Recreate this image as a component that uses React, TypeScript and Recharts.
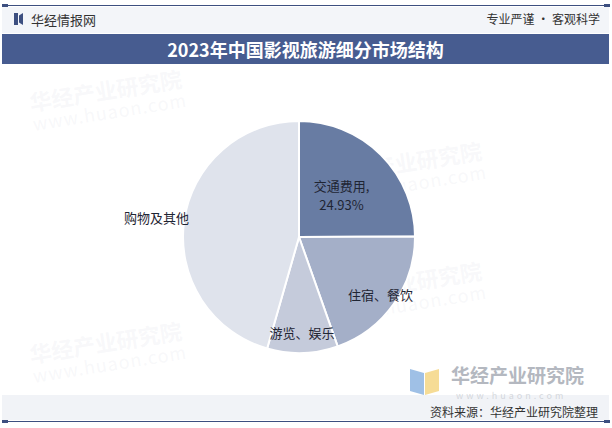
import { PieChart, Pie, Cell } from "recharts";

const categories = ["交通费用", "住宿、餐饮", "游览、娱乐", "购物及其他"];
const shares = [24.93, 19.66, 9.84, 45.57];
const sliceColors = ["#687ca3", "#a4afc8", "#c5cbdb", "#dfe3ec"];
// label distance from centre, as a share of the radius
const labelRadius = [0.52, 0.86, 0.82, 1.24];

const data = categories.map((name, i) => ({ name, value: shares[i] }));

const FONT = '"Noto Sans CJK SC", "Noto Sans", sans-serif';
const RAD = Math.PI / 180;

function renderLabel(props: any) {
  const { cx, cy, midAngle, outerRadius, index, name, value } = props;
  const r = outerRadius * labelRadius[index];
  const x = cx + r * Math.cos(-midAngle * RAD);
  const y = cy + r * Math.sin(-midAngle * RAD);
  if (index === 0) {
    return (
      <text x={x} y={y} textAnchor="middle" fill="#1f2533" fontSize={13} fontFamily={FONT}>
        <tspan x={x} dy={-3}>{name},</tspan>
        <tspan x={x} dy={19}>{value.toFixed(2)}%</tspan>
      </text>
    );
  }
  return (
    <text x={x} y={y} textAnchor="middle" dominantBaseline="central" fill="#1f2533" fontSize={13} fontFamily={FONT}>
      {name}
    </text>
  );
}

function Watermark({ x, y }: { x: number; y: number }) {
  return (
    <div
      style={{
        position: "absolute",
        left: x,
        top: y,
        transform: "rotate(-9deg)",
        color: "rgba(200,205,215,0.14)",
        fontFamily: FONT,
        lineHeight: 1,
      }}
    >
      <div style={{ fontSize: 22, fontWeight: 700 }}>华经产业研究院</div>
      <div style={{ fontSize: 18, marginTop: 2, letterSpacing: 1 }}>www.huaon.com</div>
    </div>
  );
}

export default function App() {
  return (
    <div
      style={{
        position: "absolute",
        left: 0,
        top: 0,
        width: 612,
        height: 428,
        background: "#ffffff",
        overflow: "hidden",
        fontFamily: FONT,
      }}
    >
      {/* top rule */}
      <div style={{ position: "absolute", left: 3, top: 5, width: 606, height: 1, background: "#3d4f80" }} />
      <div style={{ position: "absolute", left: 2, top: 4, width: 6, height: 3, background: "#3d4f80" }} />
      <div style={{ position: "absolute", left: 604, top: 4, width: 6, height: 3, background: "#3d4f80" }} />

      {/* header */}
      <div style={{ position: "absolute", left: 2, top: 7, width: 607, height: 26, background: "#f3f5f9" }} />
      <div style={{ position: "absolute", left: 14, top: 13, width: 4, height: 12, background: "#3d4f80" }} />
      <div style={{ position: "absolute", left: 19, top: 13, width: 4, height: 12, background: "#3d4f80", clipPath: "polygon(0 20%,100% 0,100% 100%,0 80%)" }} />
      <div style={{ position: "absolute", left: 31, top: 10, fontSize: 13, color: "#333" }}>华经情报网</div>
      <div style={{ position: "absolute", right: 12, top: 10, fontSize: 12, color: "#333" }}>专业严谨 • 客观科学</div>

      {/* title bar */}
      <div
        style={{
          position: "absolute",
          left: 2,
          top: 34,
          width: 607,
          height: 30,
          background: "#475c90",
          color: "#fff",
          fontSize: 18,
          fontWeight: 700,
          textAlign: "center",
          lineHeight: "30px",
        }}
      >
        2023年中国影视旅游细分市场结构
      </div>

      <Watermark x={30} y={78} />
      <Watermark x={330} y={150} />
      <Watermark x={30} y={330} />
      <Watermark x={330} y={270} />

      <div style={{ position: "absolute", left: 0, top: 0 }}>
        <PieChart width={612} height={428} margin={{ top: 0, right: 0, bottom: 0, left: 0 }}>
          <Pie
            data={data}
            dataKey="value"
            nameKey="name"
            cx={299}
            cy={237}
            outerRadius={116}
            startAngle={90}
            endAngle={-270}
            stroke="#ffffff"
            strokeWidth={2}
            label={renderLabel}
            labelLine={false}
            isAnimationActive={false}
          >
            {data.map((d, i) => (
              <Cell key={d.name} fill={sliceColors[i]} />
            ))}
          </Pie>
        </PieChart>
      </div>

      {/* bottom-right logo */}
      <div style={{ position: "absolute", left: 410, top: 369, width: 14, height: 26, background: "#9fc0e6", clipPath: "polygon(0 0,100% 15%,100% 100%,0 85%)" }} />
      <div style={{ position: "absolute", left: 425, top: 369, width: 14, height: 26, background: "#f6dc96", clipPath: "polygon(0 15%,100% 0,100% 85%,0 100%)" }} />
      <div style={{ position: "absolute", left: 451, top: 365, fontSize: 19, fontWeight: 700, color: "#b4b8c0", lineHeight: 1 }}>华经产业研究院</div>

      {/* footer */}
      <div style={{ position: "absolute", left: 2, top: 395, width: 607, height: 25, background: "rgba(238,241,246,0.85)" }} />
      <div style={{ position: "absolute", left: 456, top: 391, fontSize: 9, color: "rgba(180,184,192,0.5)", letterSpacing: 3, lineHeight: 1 }}>www.huaon.com</div>
      <div style={{ position: "absolute", right: 14, top: 406, fontSize: 12, color: "#333", lineHeight: 1 }}>资料来源：华经产业研究院整理</div>
      <div style={{ position: "absolute", left: 3, top: 421, width: 606, height: 1, background: "#3d4f80" }} />
      <div style={{ position: "absolute", left: 2, top: 420, width: 6, height: 3, background: "#3d4f80" }} />
      <div style={{ position: "absolute", left: 604, top: 420, width: 6, height: 3, background: "#3d4f80" }} />
    </div>
  );
}
